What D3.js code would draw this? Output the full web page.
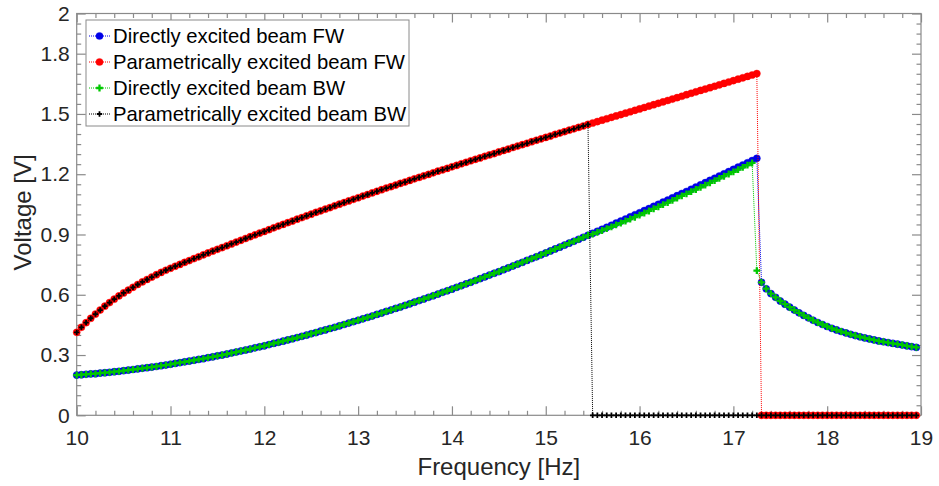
<!DOCTYPE html>
<html>
<head>
<meta charset="utf-8">
<script src="https://cdn.jsdelivr.net/npm/d3@7"></script>
<style>
  html, body { margin: 0; padding: 0; background: #ffffff; }
  svg { display: block; }
  text { font-family: "Liberation Sans", Arial, Helvetica, sans-serif; }
</style>
</head>
<body>
<svg id="chart" width="939" height="486"></svg>
<script>
// Frequency sweep points [Hz]
const freqHz = [
  10.00,10.05,10.10,10.15,10.20,10.25,10.30,10.35,10.40,10.45,10.50,10.55,10.60,10.65,10.70,10.75,10.80,10.85,10.90,10.95,
  11.00,11.05,11.10,11.15,11.20,11.25,11.30,11.35,11.40,11.45,11.50,11.55,11.60,11.65,11.70,11.75,11.80,11.85,11.90,11.95,
  12.00,12.05,12.10,12.15,12.20,12.25,12.30,12.35,12.40,12.45,12.50,12.55,12.60,12.65,12.70,12.75,12.80,12.85,12.90,12.95,
  13.00,13.05,13.10,13.15,13.20,13.25,13.30,13.35,13.40,13.45,13.50,13.55,13.60,13.65,13.70,13.75,13.80,13.85,13.90,13.95,
  14.00,14.05,14.10,14.15,14.20,14.25,14.30,14.35,14.40,14.45,14.50,14.55,14.60,14.65,14.70,14.75,14.80,14.85,14.90,14.95,
  15.00,15.05,15.10,15.15,15.20,15.25,15.30,15.35,15.40,15.45,15.50,15.55,15.60,15.65,15.70,15.75,15.80,15.85,15.90,15.95,
  16.00,16.05,16.10,16.15,16.20,16.25,16.30,16.35,16.40,16.45,16.50,16.55,16.60,16.65,16.70,16.75,16.80,16.85,16.90,16.95,
  17.00,17.05,17.10,17.15,17.20,17.25,17.30,17.35,17.40,17.45,17.50,17.55,17.60,17.65,17.70,17.75,17.80,17.85,17.90,17.95,
  18.00,18.05,18.10,18.15,18.20,18.25,18.30,18.35,18.40,18.45,18.50,18.55,18.60,18.65,18.70,18.75,18.80,18.85,18.90,18.95
];

// Directly excited beam, forward sweep [V]
const directFW = [
  .200,.202,.204,.206,.207,.210,.212,.214,.217,.219,.222,.225,.228,.231,.234,.237,.240,.243,.247,.250,
  .254,.258,.262,.266,.270,.274,.278,.282,.287,.291,.296,.300,.305,.310,.315,.320,.325,.330,.336,.341,
  .346,.352,.358,.363,.369,.375,.381,.387,.393,.399,.406,.412,.419,.425,.432,.438,.445,.452,.459,.466,
  .473,.480,.487,.494,.502,.509,.517,.524,.532,.539,.547,.555,.563,.571,.579,.587,.595,.603,.612,.620,
  .628,.637,.645,.654,.662,.671,.680,.689,.698,.707,.715,.725,.734,.743,.752,.761,.771,.780,.789,.799,
  .808,.818,.828,.837,.847,.857,.866,.876,.886,.896,.906,.916,.926,.936,.946,.957,.967,.977,.988,.998,
  1.008,1.019,1.029,1.040,1.050,1.061,1.071,1.082,1.093,1.104,1.114,1.125,1.136,1.147,1.158,1.169,1.180,1.191,1.202,1.213,
  1.224,1.235,1.246,1.257,1.268,1.279,.662,.630,.606,.587,.569,.553,.538,.524,.510,.497,.485,.473,.462,.452,
  .442,.433,.425,.417,.410,.403,.397,.391,.385,.380,.375,.370,.366,.362,.358,.354,.350,.346,.342,.338
];

// Parametrically excited beam, forward sweep [V]
const paramFW = [
  .413,.438,.461,.483,.504,.524,.543,.561,.578,.594,.609,.623,.637,.651,.664,.676,.688,.700,.711,.722,
  .732,.742,.751,.761,.770,.780,.789,.799,.808,.817,.826,.835,.844,.853,.862,.871,.880,.889,.898,.907,
  .915,.924,.933,.942,.950,.959,.967,.976,.984,.993,1.001,1.010,1.018,1.026,1.034,1.043,1.051,1.059,1.067,1.075,
  1.083,1.091,1.099,1.107,1.115,1.123,1.131,1.138,1.146,1.154,1.161,1.169,1.177,1.184,1.192,1.199,1.207,1.215,1.222,1.229,
  1.237,1.244,1.252,1.259,1.267,1.274,1.281,1.289,1.296,1.303,1.311,1.318,1.325,1.333,1.340,1.347,1.354,1.362,1.369,1.376,
  1.383,1.390,1.398,1.405,1.412,1.419,1.426,1.433,1.440,1.448,1.455,1.462,1.469,1.476,1.483,1.490,1.497,1.504,1.511,1.518,
  1.525,1.532,1.539,1.546,1.553,1.560,1.567,1.574,1.581,1.588,1.596,1.603,1.610,1.617,1.624,1.631,1.638,1.645,1.652,1.659,
  1.666,1.673,1.680,1.687,1.694,1.701,0,0,0,0,0,0,0,0,0,0,0,0,0,0,
  0,0,0,0,0,0,0,0,0,0,0,0,0,0,0,0,0,0,0,0
];

// Directly excited beam, backward sweep [V]
const directBW = [
  .200,.202,.204,.206,.207,.210,.212,.214,.217,.219,.222,.225,.228,.231,.234,.237,.240,.243,.247,.250,
  .254,.258,.262,.266,.270,.274,.278,.282,.287,.291,.296,.300,.305,.310,.315,.320,.325,.330,.336,.341,
  .346,.352,.358,.363,.369,.375,.381,.387,.393,.399,.406,.412,.419,.425,.432,.438,.445,.452,.459,.466,
  .473,.480,.487,.494,.502,.509,.517,.524,.532,.539,.547,.555,.563,.571,.579,.587,.595,.603,.612,.620,
  .628,.637,.645,.654,.662,.671,.680,.689,.698,.707,.715,.725,.734,.743,.752,.761,.771,.780,.789,.799,
  .808,.818,.828,.837,.847,.857,.866,.876,.886,.896,.902,.911,.920,.929,.938,.948,.957,.967,.977,.986,
  .996,1.007,1.017,1.028,1.038,1.049,1.059,1.070,1.081,1.092,1.102,1.113,1.124,1.135,1.146,1.157,1.168,1.179,1.190,1.201,
  1.212,1.223,1.234,1.245,1.256,.720,.662,.630,.606,.587,.569,.553,.538,.524,.510,.497,.485,.473,.462,.452,
  .442,.433,.425,.417,.410,.403,.397,.391,.385,.380,.375,.370,.366,.362,.358,.354,.350,.346,.342,.338
];

// Parametrically excited beam, backward sweep [V]
const paramBW = [
  .413,.438,.461,.483,.504,.524,.543,.561,.578,.594,.609,.623,.637,.651,.664,.676,.688,.700,.711,.722,
  .732,.742,.751,.761,.770,.780,.789,.799,.808,.817,.826,.835,.844,.853,.862,.871,.880,.889,.898,.907,
  .915,.924,.933,.942,.950,.959,.967,.976,.984,.993,1.001,1.010,1.018,1.026,1.034,1.043,1.051,1.059,1.067,1.075,
  1.083,1.091,1.099,1.107,1.115,1.123,1.131,1.138,1.146,1.154,1.161,1.169,1.177,1.184,1.192,1.199,1.207,1.215,1.222,1.229,
  1.237,1.244,1.252,1.259,1.267,1.274,1.281,1.289,1.296,1.303,1.311,1.318,1.325,1.333,1.340,1.347,1.354,1.362,1.369,1.376,
  1.383,1.390,1.398,1.405,1.412,1.419,1.426,1.433,1.440,1.448,0,0,0,0,0,0,0,0,0,0,
  0,0,0,0,0,0,0,0,0,0,0,0,0,0,0,0,0,0,0,0,
  0,0,0,0,0,0,0,0,0,0,0,0,0,0,0,0,0,0,0,0,
  0,0,0,0,0,0,0,0,0,0,0,0,0,0,0,0,0,0,0,0
];

const seriesNames = [
  "Directly excited beam FW",
  "Parametrically excited beam FW",
  "Directly excited beam BW",
  "Parametrically excited beam BW"
];
const xTicks = [10, 11, 12, 13, 14, 15, 16, 17, 18, 19];
const yTicks = [0, 0.3, 0.6, 0.9, 1.2, 1.5, 1.8, 2];
const xLabel = "Frequency [Hz]";
const yLabel = "Voltage [V]";

// ---- layout ----
const svg = d3.select("#chart");
const plot = { left: 76.7, right: 921, top: 13.5, bottom: 415.3 };
const x = d3.scaleLinear().domain([10, 19]).range([plot.left, plot.right]);
const y = d3.scaleLinear().domain([0, 2]).range([plot.bottom, plot.top]);

const frameColor = "#8a8a8a";
const textColor = "#262626";

// minor tick positions
const xMinor = d3.range(0, 46).map(i => 10 + i * 0.2).filter(v => !xTicks.some(t => Math.abs(t - v) < 1e-6));
const yMinor = d3.range(0, 41).map(i => i * 0.05).filter(v => !yTicks.some(t => Math.abs(t - v) < 1e-6));

function styleAxis(g) {
  g.select(".domain").remove();
  g.selectAll(".tick line").attr("stroke", frameColor).attr("stroke-width", 1.2);
  g.selectAll(".tick text").attr("fill", textColor).style("font-size", "21px");
}

// bottom axis with labels
svg.append("g").attr("transform", `translate(0,${plot.bottom})`)
  .call(d3.axisBottom(x).tickValues(xTicks).tickSize(-9).tickPadding(15).tickFormat(d3.format("d")))
  .call(styleAxis);
svg.append("g").attr("transform", `translate(0,${plot.bottom})`)
  .call(d3.axisBottom(x).tickValues(xMinor).tickSize(-4.5).tickFormat(""))
  .call(styleAxis);
// top axis (ticks only)
svg.append("g").attr("transform", `translate(0,${plot.top})`)
  .call(d3.axisTop(x).tickValues(xTicks).tickSize(-9).tickFormat(""))
  .call(styleAxis);
svg.append("g").attr("transform", `translate(0,${plot.top})`)
  .call(d3.axisTop(x).tickValues(xMinor).tickSize(-4.5).tickFormat(""))
  .call(styleAxis);
// left axis with labels
svg.append("g").attr("transform", `translate(${plot.left},0)`)
  .call(d3.axisLeft(y).tickValues(yTicks).tickSize(-9).tickPadding(7).tickFormat(d => String(+d.toFixed(1))))
  .call(styleAxis);
svg.append("g").attr("transform", `translate(${plot.left},0)`)
  .call(d3.axisLeft(y).tickValues(yMinor).tickSize(-4.5).tickFormat(""))
  .call(styleAxis);
// right axis (ticks only)
svg.append("g").attr("transform", `translate(${plot.right},0)`)
  .call(d3.axisRight(y).tickValues(yTicks).tickSize(-9).tickFormat(""))
  .call(styleAxis);
svg.append("g").attr("transform", `translate(${plot.right},0)`)
  .call(d3.axisRight(y).tickValues(yMinor).tickSize(-4.5).tickFormat(""))
  .call(styleAxis);

// frame
svg.append("rect")
  .attr("x", plot.left).attr("y", plot.top)
  .attr("width", plot.right - plot.left).attr("height", plot.bottom - plot.top)
  .attr("fill", "none").attr("stroke", frameColor).attr("stroke-width", 1.2);

// axis titles
svg.append("text")
  .attr("x", (plot.left + plot.right) / 2).attr("y", 475)
  .attr("text-anchor", "middle").attr("fill", textColor)
  .style("font-size", "24px").text(xLabel);
svg.append("text")
  .attr("transform", `translate(31,${(plot.top + plot.bottom) / 2 - 2}) rotate(-90)`)
  .attr("text-anchor", "middle").attr("fill", textColor)
  .style("font-size", "24px").text(yLabel);

// ---- series ----
const series = [
  { name: seriesNames[0], values: directFW, color: "#0000e8", marker: "circle" },
  { name: seriesNames[1], values: paramFW,  color: "#ff0000", marker: "circle" },
  { name: seriesNames[2], values: directBW, color: "#00c800", marker: "cross" },
  { name: seriesNames[3], values: paramBW,  color: "#000000", marker: "smallcross" }
];

const line = d3.line().x(d => x(d[0])).y(d => y(d[1]));
const crossPath = d3.symbol().type(d3.symbolCross).size(26)();
const smallCrossPath = d3.symbol().type(d3.symbolCross).size(16)();

function drawMarker(sel, s) {
  if (s.marker === "circle") {
    sel.append("circle").attr("r", 3.6).attr("fill", s.color)
      .attr("stroke", s.color).attr("stroke-opacity", 0.35).attr("stroke-width", 1);
  } else if (s.marker === "cross") {
    sel.append("path").attr("d", crossPath).attr("fill", s.color);
  } else {
    sel.append("path").attr("d", smallCrossPath).attr("fill", s.color);
  }
}

const plotG = svg.append("g");
series.forEach(s => {
  const pts = freqHz.map((f, i) => [f, s.values[i]]);
  const g = plotG.append("g");
  g.append("path").datum(pts)
    .attr("d", line).attr("fill", "none")
    .attr("stroke", s.color).attr("stroke-width", 1)
    .attr("stroke-dasharray", "1,1");
  g.selectAll("g.pt").data(pts).join("g")
    .attr("class", "pt")
    .attr("transform", d => `translate(${x(d[0])},${y(d[1])})`)
    .each(function () { drawMarker(d3.select(this), s); });
});

// ---- legend ----
const legend = svg.append("g");
legend.append("rect")
  .attr("x", 86).attr("y", 20).attr("width", 323).attr("height", 106)
  .attr("fill", "#ffffff").attr("stroke", frameColor).attr("stroke-width", 1);
series.forEach((s, i) => {
  const cy = 36 + i * 26;
  legend.append("line")
    .attr("x1", 89).attr("x2", 110).attr("y1", cy).attr("y2", cy)
    .attr("stroke", s.color).attr("stroke-width", 1).attr("stroke-dasharray", "1,1");
  const mg = legend.append("g").attr("transform", `translate(99.5,${cy})`);
  drawMarker(mg, s);
  legend.append("text")
    .attr("x", 113).attr("y", cy + 7)
    .attr("fill", "#000000").style("font-size", "20.3px")
    .text(s.name);
});
</script>
</body>
</html>
